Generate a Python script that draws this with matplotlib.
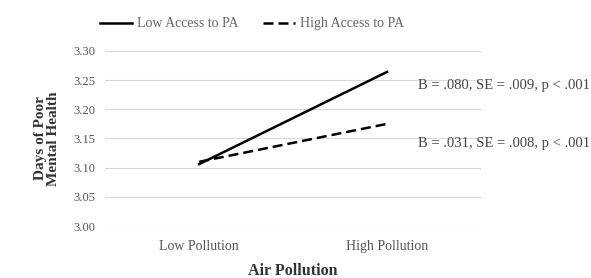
import matplotlib
matplotlib.use("Agg")
import matplotlib.pyplot as plt

# data
categories = ["Low Pollution", "High Pollution"]
low_access = [3.106, 3.264]
high_access = [3.110, 3.175]
series_labels = ["Low Access to PA", "High Access to PA"]
annotations = ["B = .080, SE = .009, p < .001", "B = .031, SE = .008, p < .001"]
yticks = [3.00, 3.05, 3.10, 3.15, 3.20, 3.25, 3.30]

plt.rcParams['font.family'] = ['Liberation Serif', 'DejaVu Serif']

fig = plt.figure(figsize=(5.91, 2.78), dpi=100)
ax = fig.add_axes([0.178, 0.187, 0.636, 0.630])

x = range(len(categories))
ax.plot(x, low_access, color='black', lw=1.8, ls='-', label=series_labels[0])
ax.plot(x, high_access, color='black', lw=1.8, ls=(0, (4, 2)), label=series_labels[1])

ax.set_xlim(-0.5, 1.5)
ax.set_ylim(3.00, 3.30)
ax.set_yticks(yticks)
ax.set_yticklabels(["%.2f" % v for v in yticks], fontsize=9, color='#555555')
ax.set_xticks(list(x))
ax.set_xticklabels(categories, fontsize=10, color='#555555')
ax.tick_params(axis='y', length=0, pad=7)
ax.tick_params(axis='x', length=0, pad=10)
ax.grid(axis='y', color='#d9d9d9', lw=0.8)
ax.set_axisbelow(True)
for s in ax.spines.values():
    s.set_visible(False)

ax.set_xlabel("Air Pollution", fontsize=11.5, fontweight='bold', labelpad=7, color='#333333')
ax.set_ylabel("Days of Poor\nMental Health", fontsize=11, fontweight='bold',
              labelpad=10, color='#333333', linespacing=1.0)

# slope annotations beside line ends
ax.annotate(annotations[0], xy=(1, low_access[1]), xytext=(22, -10),
            textcoords='offset points', fontsize=10.5, color='#444444',
            annotation_clip=False, va='center')
ax.annotate(annotations[1], xy=(1, high_access[1]), xytext=(22, -14),
            textcoords='offset points', fontsize=10.5, color='#444444',
            annotation_clip=False, va='center')

fig.legend(loc='center left', bbox_to_anchor=(0.169, 0.914), ncol=2, frameon=False,
           fontsize=10, handlelength=2.3, columnspacing=1.8, handletextpad=0.35,
           borderpad=0, borderaxespad=0, labelcolor='#666666')

fig.savefig("out.png", dpi=100)
